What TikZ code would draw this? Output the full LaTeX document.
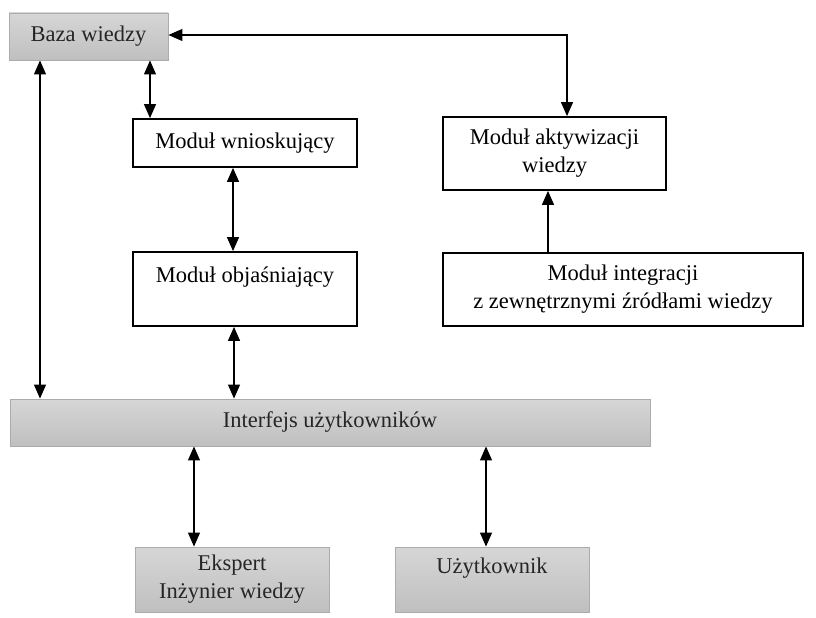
\documentclass[tikz,border=0pt]{standalone}
\usepackage{fontspec}
\setmainfont{Liberation Serif}
\usetikzlibrary{arrows.meta}
\tikzset{
  base/.style={inner sep=0pt, align=center, font=\fontsize{22.5}{28}\selectfont},
  graybox/.style={base, draw=black!33, line width=0.9pt, top color=black!16, bottom color=black!25, text=black!85},
  whitebox/.style={base, draw=black, line width=1.8pt, fill=white},
  conn/.style={line width=1.2pt, {Triangle[length=14pt,width=12pt]}-{Triangle[length=14pt,width=12pt]}},
  oneway/.style={line width=1.2pt, -{Triangle[length=14pt,width=12pt]}}
}
\begin{document}
\begin{tikzpicture}[x=1pt,y=-1pt]
\useasboundingbox (0,0) rectangle (816,618);
\node[graybox, minimum width=159pt, minimum height=47pt] (baza) at (88.5,36.5) {Baza wiedzy};
\node[whitebox, minimum width=224pt, minimum height=48pt] (wnio) at (245,143) {Moduł wnioskujący};
\node[whitebox, minimum width=224pt, minimum height=74pt] (obj) at (245,289) {Moduł objaśniający\\\mbox{}};
\node[whitebox, minimum width=223pt, minimum height=73pt] (akt) at (554.5,153.5) {Moduł aktywizacji\\wiedzy};
\node[whitebox, minimum width=360pt, minimum height=73pt] (integ) at (623,289.5) {Moduł integracji\\z zewnętrznymi źródłami wiedzy};
\node[graybox, minimum width=640pt, minimum height=47pt] (inter) at (330,422.5) {Interfejs użytkowników};
\node[graybox, minimum width=194pt, minimum height=65pt] (eksp) at (232,579.5) {Ekspert\\Inżynier wiedzy};
\node[graybox, minimum width=194pt, minimum height=65pt] (uzyt) at (492,579.5) {Użytkownik\\\mbox{}};
\coordinate (xa) at (40,0);
\coordinate (xb) at (150,0);
\coordinate (xc) at (233,0);
\coordinate (xd) at (234,0);
\coordinate (xe) at (567,0);
\coordinate (xf) at (548,0);
\coordinate (xg) at (194,0);
\coordinate (xh) at (486,0);
\coordinate (ytop) at (0,35);
\draw[conn] (baza.south -| xa) -- (inter.north -| xa);
\draw[conn] (baza.south -| xb) -- (wnio.north -| xb);
\draw[conn] (wnio.south -| xc) -- (obj.north -| xc);
\draw[conn] (obj.south -| xd) -- (inter.north -| xd);
\draw[conn] (baza.east |- ytop) -| (akt.north -| xe);
\draw[oneway] (integ.north -| xf) -- (akt.south -| xf);
\draw[conn] (inter.south -| xg) -- (eksp.north -| xg);
\draw[conn] (inter.south -| xh) -- (uzyt.north -| xh);
\end{tikzpicture}
\end{document}
